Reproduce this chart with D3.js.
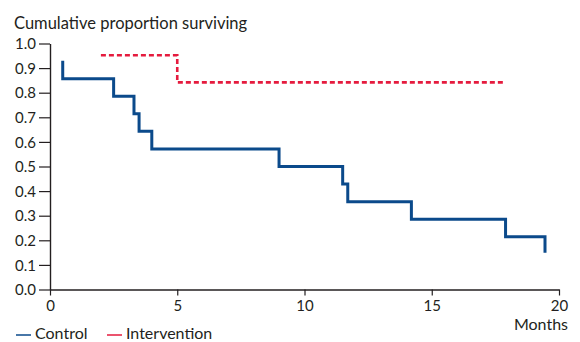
<!DOCTYPE html>
<html>
<head>
<meta charset="utf-8">
<script src="https://cdn.jsdelivr.net/npm/d3@7"></script>
<style>
  body { margin: 0; background: #fff; }
  text { font-family: Lato, "Open Sans", sans-serif; fill: #231f20; }
</style>
</head>
<body>
<script>
// Chart size
var w = 580;
var h = 342;

// Control arm: step points (month, proportion)
var controlMonths = [0.5, 0.5, 2.5, 3.3, 3.5, 4.0, 9.0, 11.5, 11.7, 14.2, 17.9, 19.45];
var controlSurv = [0.93, 0.857, 0.786, 0.714, 0.643, 0.571, 0.5, 0.429, 0.357, 0.286, 0.214, 0.149];

// Intervention arm
var interventionMonths = [2.0, 5.0, 17.8];
var interventionSurv = [0.952, 0.842, 0.842];

var xTicks = [0, 5, 10, 15, 20];
var yTicks = [0, 0.1, 0.2, 0.3, 0.4, 0.5, 0.6, 0.7, 0.8, 0.9, 1.0];

var blue = "#0b4a8b";
var red = "#e51b3e";
var ink = "#231f20";

var svg = d3.select("body").append("svg").attr("width", w).attr("height", h);

var x = d3.scaleLinear().domain([0, 20]).range([50, 559]);
var y = d3.scaleLinear().domain([0, 1]).range([289.5, 43.5]);

// y axis
var yAxis = svg.append("g").attr("transform", "translate(50,0)")
  .call(d3.axisLeft(y).tickValues(yTicks).tickFormat(d3.format(".1f")).tickSize(11).tickPadding(3).tickSizeOuter(0));
// x axis
var xAxis = svg.append("g").attr("transform", "translate(0,289.5)")
  .call(d3.axisBottom(x).tickValues(xTicks).tickSize(6).tickPadding(3).tickSizeOuter(0));

[yAxis, xAxis].forEach(function(a) {
  a.select(".domain").attr("stroke", ink).attr("stroke-width", 1.4);
  a.selectAll(".tick line").attr("stroke", ink).attr("stroke-width", 1.2);
  a.selectAll(".tick text").style("font-size", "15px").attr("fill", ink);
});
yAxis.selectAll(".tick text").attr("dy", "0.35em");
xAxis.selectAll(".tick text").attr("dy", "0.8em");

// titles
svg.append("text").attr("x", 14).attr("y", 29).style("font-size", "16.5px")
  .text("Cumulative proportion surviving");
svg.append("text").attr("x", 568).attr("y", 330).attr("text-anchor", "end").style("font-size", "16px")
  .text("Months");

// step lines
var line = d3.line().x(function(d) { return x(d[0]); }).y(function(d) { return y(d[1]); }).curve(d3.curveStepAfter);

svg.append("path")
  .datum(d3.zip(controlMonths, controlSurv))
  .attr("fill", "none").attr("stroke", blue).attr("stroke-width", 3)
  .attr("d", line);

svg.append("path")
  .datum(d3.zip(interventionMonths, interventionSurv))
  .attr("fill", "none").attr("stroke", red).attr("stroke-width", 2.6)
  .attr("stroke-dasharray", "5,3")
  .attr("d", line);

// legend
var legend = [["Control", blue, 16], ["Intervention", red, 107]];
legend.forEach(function(l) {
  svg.append("line").attr("x1", l[2]).attr("x2", l[2] + 15).attr("y1", 335).attr("y2", 335)
    .attr("stroke", l[1]).attr("stroke-width", 1.5);
  svg.append("text").attr("x", l[2] + 19).attr("y", 339).style("font-size", "16px").text(l[0]);
});
</script>
</body>
</html>
